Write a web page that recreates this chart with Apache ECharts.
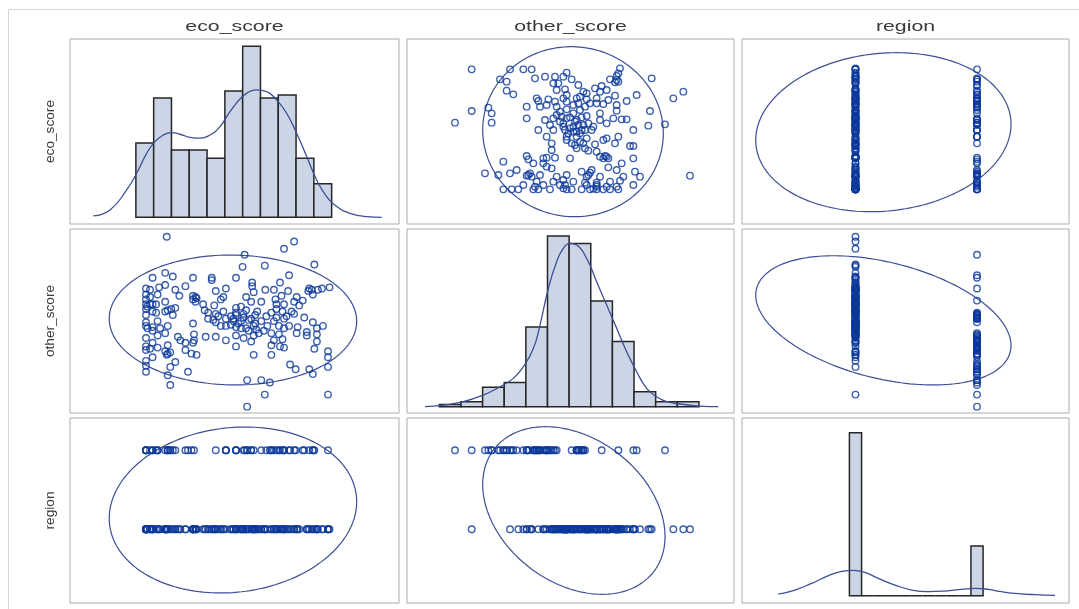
<!DOCTYPE html>
<html><head><meta charset="utf-8">
<script src="https://cdn.jsdelivr.net/npm/echarts@6/dist/echarts.min.js"></script>
<style>html,body{margin:0;padding:0;background:#fff}#main{width:1079px;height:609px}</style>
</head><body><div id="main"></div>
<script>
// ---------------- DATA ----------------
const variables = ['eco_score', 'other_score', 'region'];

const ecoScore = [48.2,48.2,48.2,48.2,48.5,47.2,47.0,46.0,46.0,45.5,46.0,46.2,45.2,44.5,44.0,44.0,45.2,45.2,44.5,44.3,
45.5,43.5,43.2,42.5,42.2,42.0,41.8,42.0,41.5,40.7,41.5,41.5,40.3,40.5,39.5,39.5,39.2,39.5,39.5,39.2,
39.5,39.0,38.7,38.5,38.5,38.0,38.0,37.8,37.5,38.7,37.5,37.0,37.0,36.7,35.7,35.0,36.2,36.0,35.0,35.8,
35.7,35.5,33.5,33.0,33.5,34.0,33.8,33.0,34.2,33.0,32.0,33.5,33.2,33.2,32.2,32.2,31.3,31.7,31.5,32.0,
31.0,31.5,31.0,30.0,30.0,29.5,30.0,30.0,30.0,28.0,28.0,28.0,27.5,27.0,28.0,27.5,26.0,25.5,26.0,25.7,
26.0,25.2,25.2,24.0,24.5,24.5,23.5,23.8,22.2,21.2,21.7,21.7,21.5,22.0,22.2,21.5,21.5,20.5,20.0,20.0,
20.0,18.0,19.0,18.5,18.0,18.8,18.0,17.5,17.0,16.5,17.0,16.5,16.0,16.5,16.0,16.5,17.5,16.5,16.0,16.0,
16.0,16.3,14.5,14.5,15.0,14.5,14.2,14.2,14.5,14.8,13.5,13.0,13.5,13.5,13.5,13.5,13.0,13.0,13.5,12.2,
12.2,12.2,12.2,12.2,12.2,12.5,12.2,12.2,12.2,12.2,12.2,12.2,12.2,34.5,33.5,35.0,33.8,31.0,30.5,31.5,
30.0,29.0,29.0,32.5,32.5,32.0,27.0,26.0,26.5,29.5,30.0,37.0,37.5,37.0,38.0,41.0,40.0,40.5,21.5,22.0,
21.5,16.3,17.0,16.0,17.2,13.0,12.4,13.5,12.2,45.0];

const otherScore = [11.5,23.0,27.0,29.5,56.0,40.0,55.5,36.5,33.5,30.5,39.0,55.0,20.0,22.0,36.0,37.5,41.5,53.0,55.5,54.5,
65.5,43.5,50.5,48.5,39.5,37.0,22.0,52.0,45.0,24.0,50.0,75.0,54.5,61.0,72.0,31.0,34.5,39.0,43.0,46.0,
49.0,52.5,31.5,36.5,40.0,43.5,47.0,51.0,55.0,58.0,34.0,28.0,32.0,16.5,11.5,17.5,40.0,44.0,50.0,55.0,
65.0,38.0,28.0,33.5,36.0,38.5,41.0,43.0,46.0,50.0,52.0,54.0,56.5,58.0,6.5,17.5,64.5,69.5,35.0,39.0,
42.0,45.0,48.0,31.5,39.5,42.0,44.5,47.5,60.0,34.0,40.0,43.0,46.0,51.0,55.5,52.0,35.5,42.5,45.0,48.5,
54.5,59.0,60.0,35.5,43.0,45.5,49.0,46.5,28.0,28.5,34.0,36.5,41.0,50.0,51.5,52.5,60.0,21.0,30.0,33.0,
56.5,25.0,34.0,35.5,47.5,52.5,55.0,60.5,15.5,19.5,23.0,28.5,29.5,32.0,37.0,40.0,44.5,46.5,50.0,57.0,
62.0,77.0,31.0,36.0,39.0,42.0,45.5,49.0,53.0,56.0,27.0,30.5,33.0,38.0,46.0,49.0,52.0,55.0,60.0,21.0,
23.5,25.5,30.0,31.5,35.0,39.0,41.5,44.5,47.0,49.0,51.0,53.0,55.5,37.0,40.0,42.0,44.5,39.0,41.0,43.5,
45.5,40.5,44.0,38.0,42.5,46.5,40.0,41.5,44.0,43.0,36.0,37.0,42.0,45.5,49.0,46.0,44.0,40.0,33.0,52.0,
51.0,28.0,29.0,46.0,47.0,49.0,48.0,39.5,40.0,55.0];

const region = [2,1,1,1,1,1,1,1,1,2,1,1,2,2,1,1,2,1,1,1,
1,2,2,1,1,1,2,1,2,2,1,1,1,2,1,2,2,1,2,1,
1,1,2,2,1,2,1,1,1,1,2,2,2,2,1,2,1,2,1,1,
1,1,2,2,1,1,1,2,1,1,1,1,1,1,2,2,1,2,1,1,
1,2,1,2,1,1,2,1,2,2,1,2,1,1,2,1,2,1,1,1,
1,1,1,1,1,1,1,1,1,2,2,1,1,1,1,1,1,2,2,1,
1,2,1,1,1,1,1,1,2,2,2,2,1,2,2,1,2,1,1,1,
1,1,2,2,1,1,2,1,1,1,2,2,2,1,1,1,1,1,1,2,
2,1,2,1,2,1,1,1,1,1,1,1,1,1,1,1,1,1,1,1,
1,1,1,1,1,1,1,1,1,1,1,1,1,1,1,1,1,1,1,1,
1,1,1,1,1,1,1,1,1,1];

// Histograms (percent of observations per bin)
const ecoBinStart = 10.2, ecoBinWidth = 3.52;
const ecoHistPct = [7.3, 11.7, 6.6, 6.6, 5.8, 12.4, 16.8, 11.7, 12.0, 5.8, 3.3];
const otherBinStart = 1.8, otherBinWidth = 6.49;
const otherHistPct = [0.35, 0.76, 2.93, 3.68, 12.06, 25.83, 24.72, 15.99, 9.89, 2.27, 0.76, 0.76];
const regionBinStart = 0.95, regionBinWidth = 0.1;
const regionHistPct = [76.6, 0, 0, 0, 0, 0, 0, 0, 0, 0, 23.4];

// Kernel density curves [value, percent]
const ecoDensity = [[1.78,0.13],[5.08,0.72],[8.38,2.68],[10.36,4.32],[12.33,6.28],[13.98,7.43],[15.63,8.08],[17.28,8.31],
[18.93,8.15],[20.9,7.85],[22.88,7.76],[24.86,8.08],[26.84,8.9],[28.82,10.37],[31.12,11.78],[33.1,12.43],[34.09,12.5],
[36.07,12.34],[38.05,11.52],[40.02,10.21],[42.0,8.25],[43.98,5.96],[45.96,3.66],[47.93,2.03],[49.91,1.05],[52.55,0.39],
[55.85,0.07],[58.81,0]];
const otherDensity = [[-2.5,0],[3,0.25],[9,0.76],[15,1.77],[20,3.03],[24,4.29],[27,6.05],[30,8.83],[32,12.36],[34.5,17.9],
[37,21.95],[39,23.97],[41,24.72],[43,24.47],[46,22.45],[49,18.92],[52,15.39],[55,11.86],[58,8.32],[61,5.3],[64,2.78],
[67,1.51],[70,0.76],[75,0.35],[80,0.1],[85.5,0]];
const regionDensity = [[0.365,0.78],[0.502,2.66],[0.639,5.79],[0.777,9.4],[0.886,11.43],[0.982,11.9],[1.078,10.96],
[1.188,8.14],[1.325,5.01],[1.462,2.66],[1.6,1.88],[1.737,2.19],[1.874,2.98],[1.984,3.45],[2.093,2.98],[2.203,1.88],
[2.34,0.94],[2.478,0.47],[2.642,0.16]];

// Prediction ellipses: [xVar, yVar, centerX, centerY, halfExtentX, halfExtentY, correlation]
const ellipseParams = [
  [1, 0, 41.9, 29.49, 27.09, 25.5, -0.02],
  [2, 0, 1.2295, 29.34, 1.0505, 23.85, 0.10],
  [0, 1, 29.4, 42.45, 24.47, 26.95, -0.02],
  [2, 1, 1.2295, 42.3, 1.0505, 26.8, -0.39],
  [0, 2, 29.4, 1.2445, 24.47, 1.0505, 0.10],
  [1, 2, 42.16, 1.238, 27.35, 1.061, -0.31]
];

// ---------------- LAYOUT ----------------
const cols = [{left: 70, width: 329}, {left: 407, width: 327}, {left: 742, width: 327}];
const rows = [{top: 39, height: 185}, {top: 229, height: 184}, {top: 418, height: 185}];
const xRange = [[-2.83, 62.24], [-7.9, 90.2], [0.066, 2.757]];
const yRange = [[1.8, 57.3], [3.87, 80.2], [0.067, 2.409]];
const diagYRange = [[-0.66, 17.5], [-0.95, 26.9], [-3.43, 83.5]];

const values = [ecoScore, otherScore, region];
const hists = [
  [ecoBinStart, ecoBinWidth, ecoHistPct],
  [otherBinStart, otherBinWidth, otherHistPct],
  [regionBinStart, regionBinWidth, regionHistPct]
];
const densities = [ecoDensity, otherDensity, regionDensity];

const MARK = '#0b389a';
const CURVE = '#3b4f96';

const grids = [], xAxes = [], yAxes = [], series = [];
for (let r = 0; r < 3; r++) {
  for (let c = 0; c < 3; c++) {
    const gi = r * 3 + c;
    grids.push({left: cols[c].left, top: rows[r].top, width: cols[c].width, height: rows[r].height,
      show: true, borderColor: '#acacac', borderWidth: 1, backgroundColor: '#fff'});
    const yr = (r === c) ? diagYRange[r] : yRange[r];
    xAxes.push({type: 'value', gridIndex: gi, min: xRange[c][0], max: xRange[c][1], show: false});
    yAxes.push({type: 'value', gridIndex: gi, min: yr[0], max: yr[1], show: false});
    if (r === c) {
      const [start, w, pct] = hists[r];
      const bins = pct.map((p, i) => [start + i * w, start + (i + 1) * w, p]);
      series.push({
        type: 'custom', xAxisIndex: gi, yAxisIndex: gi, data: bins, encode: {x: [0, 1], y: 2}, z: 2,
        renderItem: function (params, api) {
          const p0 = api.coord([api.value(0), 0]);
          const p1 = api.coord([api.value(1), api.value(2)]);
          return {type: 'rect', shape: {x: p0[0], y: p1[1], width: p1[0] - p0[0], height: p0[1] - p1[1]},
            style: {fill: '#cbd5e6', stroke: '#262626', lineWidth: 1.5}};
        }
      });
      series.push({type: 'line', xAxisIndex: gi, yAxisIndex: gi, data: densities[r], smooth: true,
        showSymbol: false, symbol: 'none', z: 3, lineStyle: {color: CURVE, width: 1.3}});
    } else {
      const pts = values[c].map((v, i) => [v, values[r][i]]);
      series.push({type: 'scatter', xAxisIndex: gi, yAxisIndex: gi, data: pts, symbol: 'circle', symbolSize: 6.5,
        itemStyle: {color: 'rgba(0,0,0,0)', borderColor: MARK, borderWidth: 1.4}, z: 3});
      const e = ellipseParams.find(p => p[0] === c && p[1] === r);
      const phi = Math.acos(e[6]);
      const ell = [];
      for (let k = 0; k <= 180; k++) {
        const t = 2 * Math.PI * k / 180;
        ell.push([e[2] + e[4] * Math.cos(t), e[3] + e[5] * Math.cos(t + phi)]);
      }
      series.push({type: 'line', xAxisIndex: gi, yAxisIndex: gi, data: ell, showSymbol: false, symbol: 'none',
        z: 2, lineStyle: {color: CURVE, width: 1.2}});
    }
  }
}

const graphic = [{type: 'rect', silent: true, shape: {x: 8.5, y: 9.5, width: 1200, height: 700},
  style: {fill: 'none', stroke: '#d6d6d6', lineWidth: 1}}];
const colCenters = cols.map(c => c.left + c.width / 2);
const rowCenters = rows.map(r => r.top + r.height / 2);
variables.forEach((name, i) => {
  graphic.push({type: 'text', x: colCenters[i], y: 27, scaleX: 1.42, silent: true,
    style: {text: name, fill: '#3a3a3a', font: '15px "Liberation Sans", Arial, sans-serif',
      textAlign: 'center', textVerticalAlign: 'middle', align: 'center', verticalAlign: 'middle'}});
  graphic.push({type: 'text', x: 50, y: rowCenters[i], rotation: Math.PI / 2, scaleX: 1.05, silent: true,
    style: {text: name, fill: '#3a3a3a', font: '13px "Liberation Sans", Arial, sans-serif',
      textAlign: 'center', textVerticalAlign: 'middle', align: 'center', verticalAlign: 'middle'}});
});

const chart = echarts.init(document.getElementById('main'), null, {renderer: 'canvas'});
chart.setOption({animation: false, backgroundColor: '#fff', grid: grids, xAxis: xAxes, yAxis: yAxes,
  series: series, graphic: graphic});
</script></body></html>
